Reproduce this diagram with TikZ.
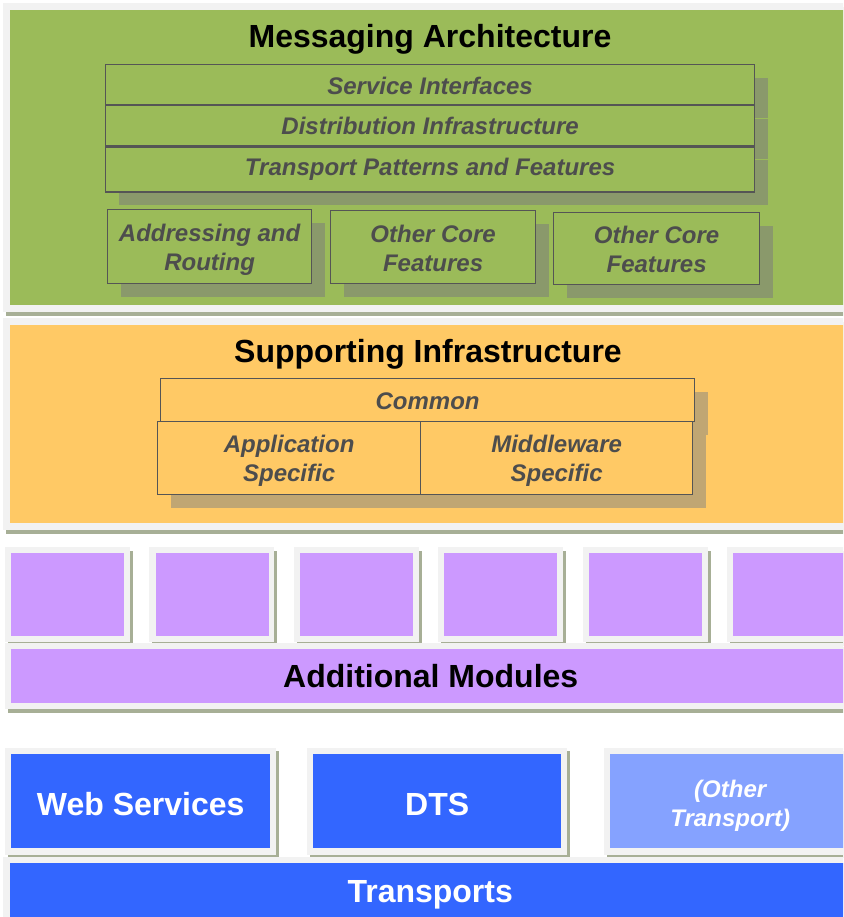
\documentclass[tikz,border=0pt]{standalone}
\usepackage{fontspec}
\setmainfont{Liberation Sans}
\usetikzlibrary{positioning, shadows}

\definecolor{msggreen}{HTML}{9BBB59}
\definecolor{greenshadow}{HTML}{8A996B}
\definecolor{infraorange}{HTML}{FFC965}
\definecolor{orangeshadow}{HTML}{C0A673}
\definecolor{modpurple}{HTML}{CC99FF}
\definecolor{transblue}{HTML}{3366FF}
\definecolor{otherblue}{HTML}{85A2FF}
\definecolor{framegrey}{HTML}{F2F2F2}
\definecolor{layershadow}{HTML}{A7AF96}
\definecolor{edgegrey}{HTML}{555555}
\definecolor{labelgrey}{HTML}{4D4D4D}

\newcommand{\lowstrut}[1]{\rule{0pt}{#1}}

\begin{document}
\begin{tikzpicture}[x=1pt, y=-1pt,
    every node/.style={inner sep=0pt, align=center},
    title/.style={font=\fontsize{32}{34}\selectfont\bfseries},
    textlow/.style={execute at begin node={\rule{0pt}{#1}}},
    layerbox/.style={anchor=north west, draw=none},
    bigtext/.style={text=white, font=\fontsize{32}{34}\selectfont\bfseries},
    featbox/.style={anchor=north west, draw=edgegrey, line width=1.2pt, text=labelgrey,
        font=\fontsize{24}{29}\selectfont\bfseries\itshape},
    greenbox/.style={featbox, fill=msggreen,
        drop shadow={shadow xshift=13pt, shadow yshift=-13pt, fill=greenshadow, opacity=1}},
    orangebox/.style={featbox, fill=infraorange,
        drop shadow={shadow xshift=13pt, shadow yshift=-13pt, fill=orangeshadow, opacity=1}}
]
\clip (0,0) rectangle (843,917);
\fill[white] (0,0) rectangle (843,917);

% messaging architecture
\fill[layershadow] (6,7) rectangle (853,316);
\fill[framegrey] (3,3) rectangle (850,312);
\node[layerbox, fill=msggreen, minimum width=840, minimum height=295] (msg) at (10,10) {};
\node[title] (msgtitle) at (430,39) {Messaging Architecture};

\node[greenbox, minimum width=649, minimum height=40, textlow=19.5pt] (svc) at (105,64) {Service Interfaces};
\node[greenbox, minimum width=649, minimum height=40, below=0pt of svc] (dist) {Distribution Infrastructure};
\node[greenbox, minimum width=649, minimum height=45, below=0pt of dist] (patterns) {Transport Patterns and Features};

\node[greenbox, minimum width=204, minimum height=74] (addr) at (107,209) {\lowstrut{23.5pt}Addressing and\\Routing};
\node[greenbox, minimum width=205, minimum height=73] (core1) at (330,210) {\lowstrut{19.5pt}Other Core\\Features};
\node[greenbox, minimum width=206, minimum height=72] (core2) at (553,212) {\lowstrut{19.5pt}Other Core\\Features};

% supporting infrastructure
\fill[layershadow] (6,322) rectangle (853,534);
\fill[framegrey] (3,318) rectangle (850,530);
\node[layerbox, fill=infraorange, minimum width=840, minimum height=198] (infra) at (10,325) {};
\node[title] (infratitle) at (428,354) {Supporting Infrastructure};

\node[orangebox, minimum width=534, minimum height=43, textlow=19.5pt] (common) at (160,378) {Common};
\node[orangebox, minimum width=263, minimum height=73] (app) at (157,421) {\lowstrut{23.5pt}Application\\Specific};
\node[orangebox, minimum width=272, minimum height=73] (mid) at (420,421) {\lowstrut{23.5pt}Middleware\\Specific};

% additional modules
\foreach \i in {0,...,5} {
    \fill[layershadow] ({8+144.4*\i},551) rectangle ({133+144.4*\i},646);
    \fill[framegrey] ({5+144.4*\i},547) rectangle ({130+144.4*\i},642);
    \node[layerbox, fill=modpurple, minimum width=113, minimum height=83] (mod\i) at ({11+144.4*\i},553) {};
}
\fill[layershadow] (8,647) rectangle (853,713);
\fill[framegrey] (5,643) rectangle (850,709);
\node[layerbox, fill=modpurple, minimum width=839, minimum height=54, title] (modules) at (11,649) {Additional Modules};

% transports
\fill[layershadow] (8,751) rectangle (279,858);
\fill[framegrey] (5,748) rectangle (276,855);
\node[layerbox, fill=transblue, minimum width=259, minimum height=94, bigtext, textlow=29.2pt] (ws) at (11,754) {Web Services};

\fill[layershadow] (310,751) rectangle (570,858);
\fill[framegrey] (307,748) rectangle (567,855);
\node[layerbox, fill=transblue, minimum width=248, minimum height=94, bigtext, textlow=29.2pt] (dts) at (313,754) {DTS};

\fill[layershadow] (607,751) rectangle (853,858);
\fill[framegrey] (604,748) rectangle (850,855);
\node[layerbox, fill=otherblue, minimum width=240, minimum height=94, text=white,
    font=\fontsize{24}{29}\selectfont\bfseries\itshape] (other) at (610,754) {\lowstrut{27.5pt}(Other\\Transport)};

\fill[framegrey] (3,857) rectangle (850,917);
\node[layerbox, fill=transblue, minimum width=840, minimum height=54, bigtext, textlow=31pt] (transports) at (10,863) {Transports};
\end{tikzpicture}
\end{document}
